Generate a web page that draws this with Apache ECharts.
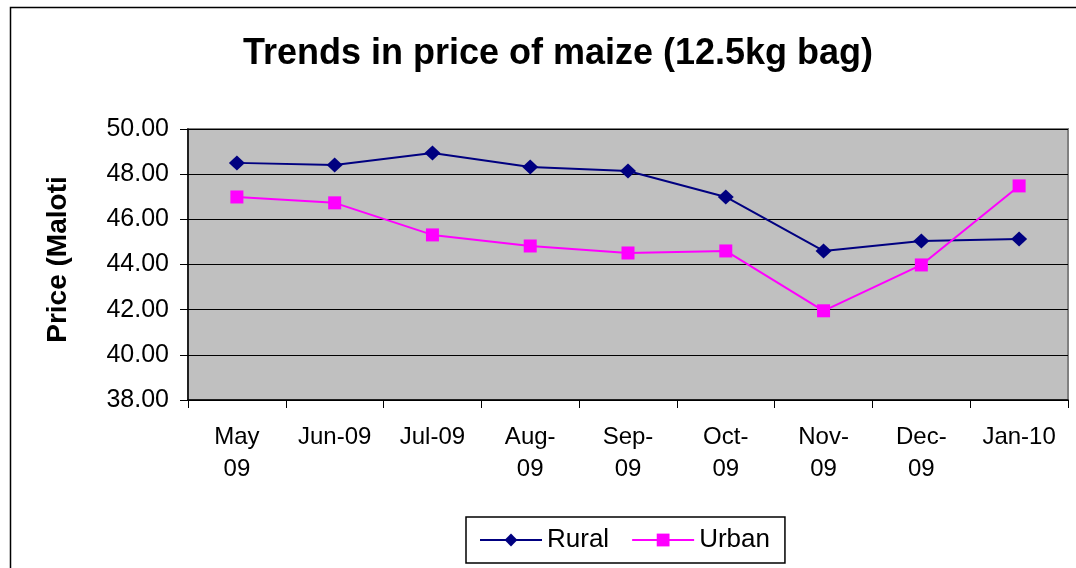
<!DOCTYPE html>
<html>
<head>
<meta charset="utf-8">
<script src="https://cdn.jsdelivr.net/npm/echarts@6/dist/echarts.min.js"></script>
<style>
  html, body { margin: 0; padding: 0; background: #fff; }
  #main { width: 1076px; height: 568px; }
</style>
</head>
<body>
<div id="main"></div>
<script>
// categories (as shown on the axis, wrapped)
var months = ["May\n09", "Jun-09", "Jul-09", "Aug-\n09", "Sep-\n09", "Oct-\n09", "Nov-\n09", "Dec-\n09", "Jan-10"];
// prices in Maloti
var rural = [48.50, 48.41, 48.94, 48.32, 48.14, 46.99, 44.60, 45.04, 45.13];
var urban = [46.99, 46.73, 45.31, 44.82, 44.51, 44.60, 41.95, 43.98, 47.48];
var yTicks = [38, 40, 42, 44, 46, 48, 50];

var myChart = echarts.init(document.getElementById("main"));
var font = "Liberation Sans, Arial, sans-serif";

var option = {
    animation: false,
    // outer frame
    graphic: [{
        type: "rect",
        shape: { x: 10.5, y: 7.5, width: 1100, height: 600 },
        style: { fill: "none", stroke: "#000", lineWidth: 1.5 }
    }],
    title: {
        text: "Trends in price of maize (12.5kg bag)",
        left: 553, top: 31, textAlign: "center",
        textStyle: { fontFamily: font, fontWeight: "bold", fontSize: 36, color: "#000" }
    },
    legend: {
        data: ["Rural", "Urban"],
        left: 466, top: 517,
        padding: [10, 15, 10, 13],
        itemGap: 22,
        itemWidth: 62, itemHeight: 16,
        borderColor: "#000", borderWidth: 1.5,
        textStyle: { fontFamily: font, fontSize: 26, color: "#000" }
    },
    grid: { left: 188, right: 8, top: 129, bottom: 168, show: true, backgroundColor: "#c0c0c0", borderColor: "#808080", borderWidth: 2 },
    xAxis: {
        type: "category",
        data: months,
        boundaryGap: true,
        axisLine: { lineStyle: { color: "#000", width: 1.5 } },
        axisTick: { show: true, length: 8, lineStyle: { color: "#000" } },
        axisLabel: { fontFamily: font, fontSize: 24, color: "#000", lineHeight: 32, margin: 21, interval: 0 }
    },
    yAxis: {
        type: "value",
        min: yTicks[0], max: yTicks[yTicks.length - 1], interval: 2,
        name: "Price (Maloti",
        nameLocation: "middle",
        nameGap: 116,
        nameTextStyle: { fontFamily: font, fontWeight: "bold", fontSize: 28, color: "#000", padding: [0, 0, 0, 10] },
        axisLine: { show: true, lineStyle: { color: "#000", width: 1.5 } },
        axisTick: { show: true, length: 8, lineStyle: { color: "#000" } },
        splitLine: { lineStyle: { color: "#000", width: 1.2 } },
        axisLabel: {
            fontFamily: font, fontSize: 25, color: "#000", margin: 19,
            formatter: function (v) { return v.toFixed(2); }
        }
    },
    series: [
        {
            name: "Rural", type: "line", data: rural,
            symbol: "diamond", symbolSize: [16, 15],
            lineStyle: { color: "#000080", width: 2 },
            itemStyle: { color: "#000080" }
        },
        {
            name: "Urban", type: "line", data: urban,
            symbol: "rect", symbolSize: 13,
            lineStyle: { color: "#ff00ff", width: 2 },
            itemStyle: { color: "#ff00ff" }
        }
    ]
};
myChart.setOption(option);
</script>
</body>
</html>
